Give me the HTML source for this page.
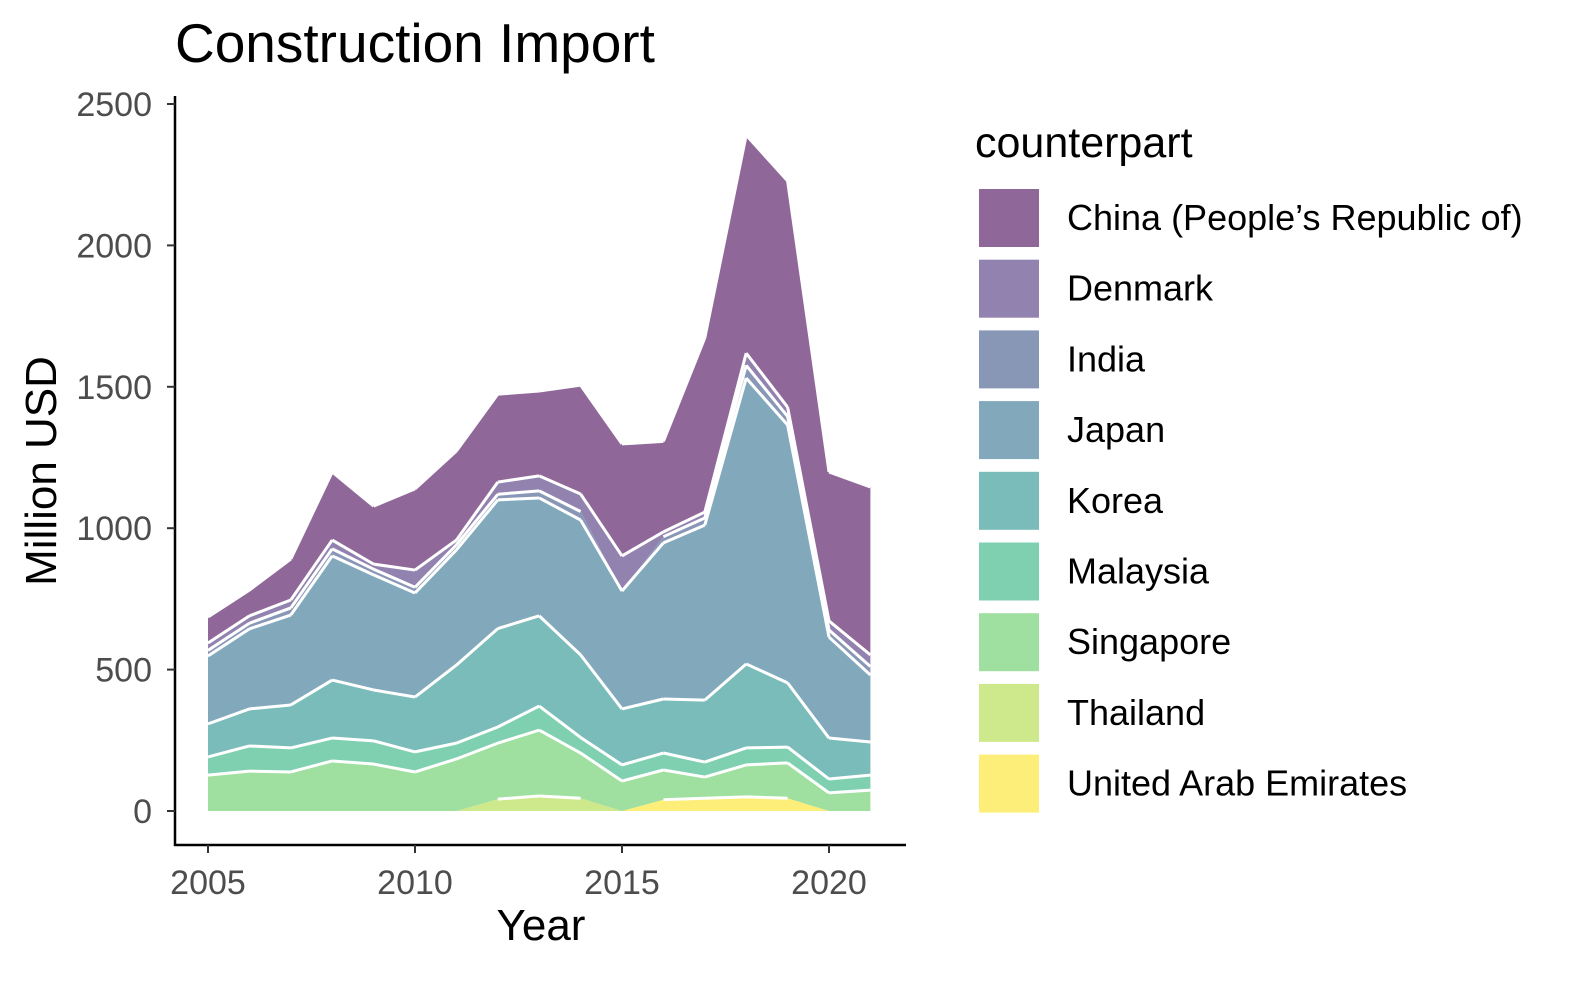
<!DOCTYPE html>
<html><head><meta charset="utf-8"><style>
body{margin:0;background:#fff;font-family:"Liberation Sans",Arial,sans-serif}
svg text{font-family:"Liberation Sans",Arial,sans-serif}
</style></head><body>
<svg id="chart" width="1595" height="989" xmlns="http://www.w3.org/2000/svg">
<rect width="1595" height="989" fill="#fff"/>
<text x="175" y="62" font-size="55" fill="#000">Construction Import</text>
<g id="areas"></g>
<line x1="175" y1="96" x2="175" y2="846" stroke="#000" stroke-width="2.5"/>
<line x1="174" y1="845" x2="906" y2="845" stroke="#000" stroke-width="2.5"/>
<g id="ticks"></g>
<text x="541" y="940" font-size="44" text-anchor="middle">Year</text>
<text transform="translate(56,471) rotate(-90)" font-size="44" text-anchor="middle">Million USD</text>
<g id="legend"></g>
</svg>
<script>
const years=[2005,2006,2007,2008,2009,2010,2011,2012,2013,2014,2015,2016,2017,2018,2019,2020,2021];
const seriesNames=["United Arab Emirates","Thailand","Singapore","Malaysia","Korea","Japan","India","Denmark","China (People’s Republic of)"];
const uae=[0,0,0,0,0,0,0,0,0,0,0,40,45,50,45,0,0];
const thailand=[0,0,0,0,0,0,0,42,53,45,0,0,0,0,0,0,0];
const singapore=[127,141,138,177,166,138,184,198,233,160,106,105,75,113,125,64,74];
const malaysia=[64,89,85,81,82,71,56,57,85,55,57,60,53,60,56,49,53];
const korea=[117,131,152,205,180,194,276,348,319,292,198,191,219,297,227,145,117];
const japan=[240,283,318,439,407,368,407,455,417,477,417,552,619,1011,912,357,237];
const india=[20,20,25,25,20,20,18,20,25,30,0,22,25,45,30,25,30];
const denmark=[26,26,28,31,18,61,17,43,53,62,124,17,21,43,33,32,41];
const china=[92,91,145,241,205,287,315,311,300,385,396,320,616,771,800,527,594];
const yTicks=[0,500,1000,1500,2000,2500];
const xTicks=[2005,2010,2015,2020];
const allSeries=[uae,thailand,singapore,malaysia,korea,japan,india,denmark,china];
const colors=["#fdee7a","#cde98b","#9fdf9f","#7fd0b1","#7abcb9","#81a9bb","#8897b6","#9282b0","#8f6899"];
const sx=y=>208+(y-2005)*(829-208)/15;
const sy=v=>811-v*(811-104)/2500;
const NS="http://www.w3.org/2000/svg";
const g=document.getElementById('areas');
let base=years.map(()=>0);
const slugs=["uae","thailand","singapore","malaysia","korea","japan","india","denmark","china"];
allSeries.forEach((s,k)=>{
  const top=base.map((b,i)=>b+s[i]);
  let pts=years.map((y,i)=>sx(y)+","+sy(top[i]));
  for(let i=years.length-1;i>=0;i--)pts.push(sx(years[i])+","+sy(base[i]));
  const p=document.createElementNS(NS,'polygon');
  p.setAttribute('points',pts.join(' '));
  p.setAttribute('fill',colors[k]);
  
  
  g.appendChild(p);
  base=top;
});
base=years.map(()=>0);
allSeries.forEach((s,k)=>{
  const top=base.map((b,i)=>b+s[i]);
  for(let i=0;i<years.length-1;i++){
    if(s[i]>0&&s[i+1]>0){
      const l=document.createElementNS(NS,'line');
      l.setAttribute('x1',sx(years[i]));l.setAttribute('y1',sy(top[i]));
      l.setAttribute('x2',sx(years[i+1]));l.setAttribute('y2',sy(top[i+1]));
      l.setAttribute('stroke','#fff');l.setAttribute('stroke-width','3');
      
      
      g.appendChild(l);
    }
  }
  base=top;
});
const t=document.getElementById('ticks');
yTicks.forEach(v=>{
  const l=document.createElementNS(NS,'line');
  l.setAttribute('x1',167);l.setAttribute('x2',175);l.setAttribute('y1',sy(v));l.setAttribute('y2',sy(v));
  l.setAttribute('stroke','#333');l.setAttribute('stroke-width','2');
  
  
  t.appendChild(l);
  const tx=document.createElementNS(NS,'text');
  tx.setAttribute('x',152);tx.setAttribute('y',sy(v)+12);tx.setAttribute('text-anchor','end');
  tx.setAttribute('font-size','34');tx.setAttribute('fill','#4d4d4d');tx.textContent=v;
  
  
  t.appendChild(tx);
});
xTicks.forEach(v=>{
  const l=document.createElementNS(NS,'line');
  l.setAttribute('x1',sx(v));l.setAttribute('x2',sx(v));l.setAttribute('y1',845);l.setAttribute('y2',853);
  l.setAttribute('stroke','#333');l.setAttribute('stroke-width','2');
  
  
  t.appendChild(l);
  const tx=document.createElementNS(NS,'text');
  tx.setAttribute('x',sx(v));tx.setAttribute('y',894);tx.setAttribute('text-anchor','middle');
  tx.setAttribute('font-size','34');tx.setAttribute('fill','#4d4d4d');tx.textContent=v;
  
  
  t.appendChild(tx);
});
const lg=document.getElementById('legend');
const tt=document.createElementNS(NS,'text');
tt.setAttribute('x',975);tt.setAttribute('y',157);tt.setAttribute('font-size','43');tt.textContent='counterpart';


lg.appendChild(tt);
for(let j=0;j<9;j++){
  const k=8-j;
  const y0=189+j*70.7;
  const r=document.createElementNS(NS,'rect');
  r.setAttribute('x',979);r.setAttribute('y',y0);r.setAttribute('width',60);r.setAttribute('height',58);
  r.setAttribute('fill',colors[k]);
  
  
  lg.appendChild(r);
  const tx=document.createElementNS(NS,'text');
  tx.setAttribute('x',1067);tx.setAttribute('y',y0+41);tx.setAttribute('font-size','36');tx.textContent=seriesNames[k];
  
  
  lg.appendChild(tx);
}
</script>
</body></html>
